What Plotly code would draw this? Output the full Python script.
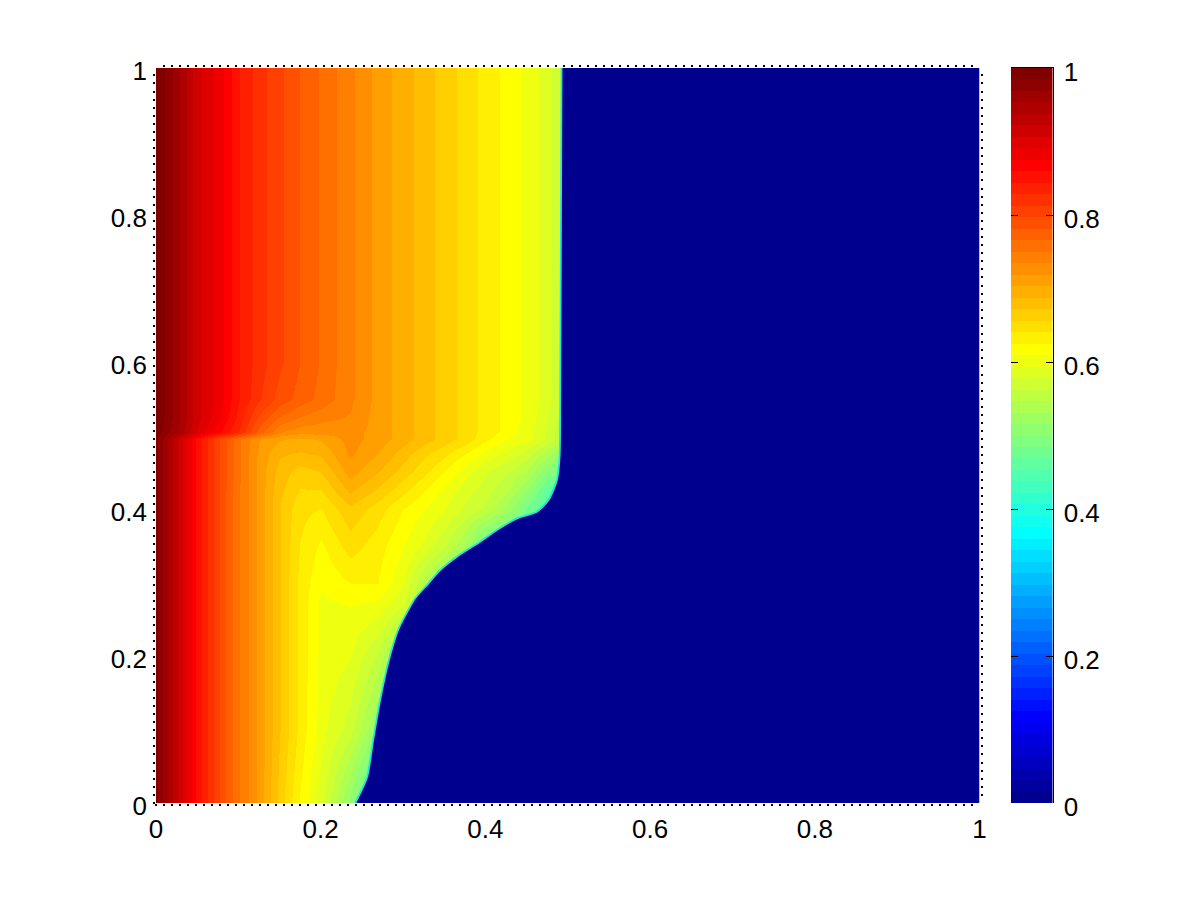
import plotly.graph_objects as go

# ---- data ----
x_cols = [0, .025, .05, .075, .1, .125, .15, .175, .2, .235, .27, .3, .325, .35, .375, .4, .425, .45, .475, .5]
y_rows = [0, .1, .2, .27, .3, .35, .4, .425, .45, .475, .495, .505, .525, .55, .6, 1]
field = [
    [.99, .925, .855, .80, .753, .714, .665, .623, .585, .51, .42, .42, .42, .42, .42, .42, .42, .42, .42, .42],
    [.99, .925, .855, .80, .753, .714, .672, .636, .60, .57, .51, .46, .45, .45, .45, .45, .45, .45, .45, .45],
    [.99, .925, .855, .80, .753, .714, .672, .636, .605, .595, .56, .50, .46, .45, .45, .45, .45, .45, .45, .45],
    [.99, .925, .855, .80, .753, .714, .672, .636, .605, .61, .605, .58, .53, .48, .45, .45, .45, .45, .45, .45],
    [.99, .925, .855, .80, .753, .714, .672, .636, .612, .625, .625, .595, .545, .50, .46, .45, .45, .45, .45, .45],
    [.99, .925, .855, .80, .753, .714, .672, .64, .622, .648, .632, .61, .59, .565, .53, .47, .45, .45, .45, .45],
    [.99, .925, .855, .80, .753, .714, .672, .645, .64, .668, .648, .625, .61, .595, .575, .56, .53, .48, .45, .45],
    [.99, .925, .855, .80, .753, .714, .675, .655, .655, .69, .668, .645, .625, .605, .585, .57, .55, .515, .46, .45],
    [.99, .925, .855, .80, .755, .714, .68, .665, .672, .71, .688, .665, .645, .625, .60, .58, .565, .545, .50, .47],
    [.99, .925, .855, .80, .755, .715, .69, .685, .69, .722, .703, .68, .66, .645, .625, .605, .59, .57, .54, .50],
    [.99, .925, .855, .80, .755, .72, .705, .70, .705, .725, .712, .695, .68, .665, .65, .63, .61, .60, .575, .54],
    [.995, .955, .905, .865, .83, .775, .735, .725, .725, .725, .712, .695, .68, .665, .65, .635, .62, .60, .575, .54],
    [1, .96, .912, .88, .84, .795, .765, .75, .74, .733, .712, .695, .68, .665, .65, .635, .62, .605, .58, .545],
    [1, .96, .912, .885, .846, .815, .79, .775, .76, .738, .713, .695, .68, .665, .65, .635, .62, .605, .585, .55],
    [1, .96, .912, .885, .846, .82, .80, .781, .764, .738, .713, .695, .68, .665, .65, .635, .62, .605, .585, .55],
    [1, .96, .912, .885, .846, .82, .80, .781, .764, .738, .713, .695, .68, .665, .65, .635, .62, .605, .585, .55],
]
front_y = [0, .0354, .0857, .1401, .1905, .2354, .2671, .2785, .2989, .3170, .3351, .3555, .3714, .3873, .3963, .4122, .4395, .4712, .5483, 1]
front_x = [.2420, .2564, .2637, .2722, .2819, .2940, .3086, .3147, .3309, .3451, .3654, .3937, .4140, .4383, .4626, .4767, .4869, .4901, .4909, .4925]
tick_vals = [0, .2, .4, .6, .8, 1]
tick_text = ["0", "0.2", "0.4", "0.6", "0.8", "1"]
n_levels = 64
bar_levels = [k / (n_levels - 1) for k in range(n_levels)]
bar_y = [(k + .5) / n_levels for k in range(n_levels)]


def jet(m):
    n = m // 4
    u = [(i + 1) / n for i in range(n)] + [1.0] * (n - 1) + [(n - i) / n for i in range(n)]
    r, g, b = [0.0] * m, [0.0] * m, [0.0] * m
    start = n // 2
    for i, v in enumerate(u):
        for arr, pos in ((g, start + i), (r, start + n + i), (b, start - n + i)):
            if 0 <= pos < m:
                arr[pos] = v
    return [f"rgb({round(r[k]*255)},{round(g[k]*255)},{round(b[k]*255)})" for k in range(m)]


cols = jet(n_levels)
scale = []
for k, c in enumerate(cols):
    scale += [[k / n_levels, c], [(k + 1) / n_levels, c]]
BLUE = cols[0]

W, H, OFF = 1185, 885, 8
L, R, T, B = 156 - OFF, 979.5 - OFF, 68 - OFF, 803 - OFF
CL, CR = 1011 - OFF, 1052.5 - OFF
dom_x = [L / W, R / W]
dom_y = [(H - B) / H, (H - T) / H]
dom_cx = [CL / W, CR / W]
FONT = dict(family="Liberation Sans, Arial, sans-serif", size=26, color="black")

fig = go.Figure()
fig.add_trace(go.Heatmap(x=x_cols, y=y_rows, z=field, zmin=0, zmax=1, colorscale=scale,
                         zsmooth="best", showscale=False, hoverinfo="skip"))
fig.add_trace(go.Scatter(x=front_x + [1, 1], y=front_y + [1, 0], mode="lines", fill="toself",
                         fillcolor=BLUE, line=dict(width=0, color=BLUE), hoverinfo="skip", showlegend=False))
fig.add_trace(go.Scatter(x=front_x, y=front_y, mode="lines",
                         line=dict(width=1.8, color="rgb(40,225,225)", shape="spline", smoothing=.7),
                         hoverinfo="skip", showlegend=False))
fig.add_trace(go.Heatmap(x=[.5], y=bar_y, z=[[v] for v in bar_levels], zmin=0, zmax=1, colorscale=scale,
                         showscale=False, xaxis="x2", yaxis="y2", hoverinfo="skip"))
# invisible carriers so the overlay axes (box dots on top/right, mirrored colour-bar ticks) are drawn
for xa, ya in (("x3", "y"), ("x", "y4"), ("x2", "y3")):
    fig.add_trace(go.Scatter(x=[0], y=[0], xaxis=xa, yaxis=ya, mode="markers", marker=dict(opacity=0, size=1),
                             hoverinfo="skip", showlegend=False))

dots = dict(ticks="outside", ticklen=2, tickwidth=2, tickcolor="black", showgrid=False)
x_dots = dict(dots, dtick=.00972)
y_dots = dict(dots, dtick=.011)
quiet = dict(showgrid=False, zeroline=False, showticklabels=False, ticks="", range=[0, 1])
common = dict(tickmode="array", tickvals=tick_vals, ticktext=tick_text, showgrid=False, zeroline=False, tickfont=FONT)
fig.update_layout(
    width=W, height=H, margin=dict(l=0, r=0, t=0, b=0, autoexpand=False),
    paper_bgcolor="white", plot_bgcolor="white", showlegend=False, font=FONT,
    xaxis=dict(domain=dom_x, range=[0, 1], ticks="", ticklabelstandoff=8, minor=x_dots, anchor="y", **common),
    yaxis=dict(domain=dom_y, range=[0, 1], ticks="", ticklabelstandoff=8, ticklabelshift=3, minor=y_dots,
               anchor="x", **common),
    xaxis3=dict(domain=dom_x, overlaying="x", side="top", anchor="y", minor=x_dots, **quiet),
    yaxis4=dict(domain=dom_y, overlaying="y", side="right", anchor="x", minor=y_dots, **quiet),
    xaxis2=dict(domain=dom_cx, side="top", anchor="y2", showline=True, linecolor="black", linewidth=1, **quiet),
    yaxis2=dict(domain=dom_y, range=[0, 1], side="right", anchor="x2", ticks="inside", ticklen=7, tickwidth=1,
                tickcolor="black", showline=True, linecolor="black", linewidth=1, ticklabelstandoff=5,
                ticklabelshift=4, **common),
    yaxis3=dict(domain=dom_y, range=[0, 1], side="left", anchor="x2", overlaying="y2", tickmode="array",
                tickvals=tick_vals, showticklabels=False, ticks="inside", ticklen=7, tickwidth=1, tickcolor="black",
                showgrid=False, zeroline=False, showline=False),
)
fig.write_html("out.html")
